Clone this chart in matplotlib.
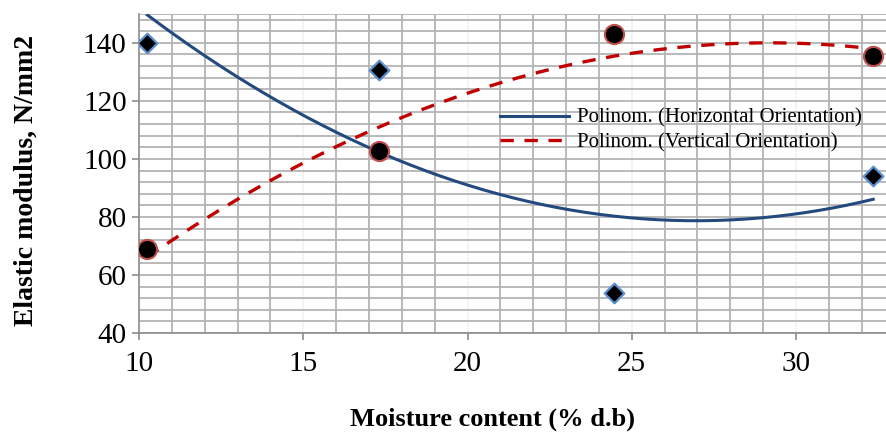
import numpy as np
import matplotlib.pyplot as plt
from matplotlib.ticker import MultipleLocator

plt.rcParams['font.family'] = ['Liberation Serif', 'DejaVu Serif']

# moisture content (% d.b) and elastic modulus (N/mm2)
moisture = [10.25, 17.3, 24.45, 32.35]
horizontal = [140.0, 130.5, 53.7, 94.2]
vertical = [69.0, 102.8, 143.1, 135.6]

fig = plt.figure(figsize=(8.86, 4.33), dpi=100)
ax = fig.add_axes([0.157, 0.231, 0.843, 0.737])

# excel style polynomial (order 2) trendlines
xs = np.linspace(moisture[0], moisture[-1], 200)
ph = np.polyfit(moisture, horizontal, 2)
pv = np.polyfit(moisture, vertical, 2)
ax.plot(xs, np.polyval(ph, xs), color='#234a7e', lw=2.2,
        label='Polinom. (Horizontal Orientation)', zorder=3)
ax.plot(xs, np.polyval(pv, xs), color='#c00000', lw=2.4, ls=(0, (4, 3.2)),
        label='Polinom. (Vertical Orientation)', zorder=3)

ax.scatter(moisture, horizontal, marker='D', s=100, color='black',
           edgecolor='#5b8fd0', linewidth=1.6, zorder=4)
ax.scatter(moisture, vertical, marker='o', s=190, color='black',
           edgecolor='#c0504d', linewidth=1.5, zorder=4)

ax.set_xlim(10, 32.74)
ax.set_ylim(40, 150)
ax.xaxis.set_major_locator(MultipleLocator(5))
ax.xaxis.set_minor_locator(MultipleLocator(1))
ax.yaxis.set_major_locator(MultipleLocator(20))
ax.yaxis.set_minor_locator(MultipleLocator(4))

ax.grid(which='minor', color='#b4b4b4', lw=1.3)
ax.grid(which='major', axis='y', color='#b4b4b4', lw=1.3)
ax.grid(which='major', axis='x', color='#f2f2f2', lw=1.3)
ax.axhline(150, color='#b4b4b4', lw=1.3)
ax.set_axisbelow(True)

for s in ['top', 'right']:
    ax.spines[s].set_visible(False)
for s in ['left', 'bottom']:
    ax.spines[s].set_color('#8c8c8c')
    ax.spines[s].set_linewidth(1.2)
ax.tick_params(which='major', length=5, width=1.2, color='#8c8c8c',
               labelsize=21, pad=4)
ax.tick_params(axis='x', pad=8)
ax.tick_params(which='minor', length=0)

ax.set_xlabel('Moisture content (% d.b)', fontsize=19, fontweight='bold')
ax.set_ylabel('Elastic modulus, N/mm2', fontsize=20, fontweight='bold')
ax.xaxis.label.set(va='center', ha='center')
ax.yaxis.label.set(va='center', ha='center')
ax.xaxis.set_label_coords(0.473, -0.27)
ax.yaxis.set_label_coords(-0.151, 0.478)

ax.legend(loc='upper left', bbox_to_anchor=(0.483, 0.704), frameon=False,
          fontsize=15, handlelength=3.3, handletextpad=0.4,
          labelspacing=0.25, borderaxespad=0, borderpad=0)

fig.savefig('out.png', dpi=100)
